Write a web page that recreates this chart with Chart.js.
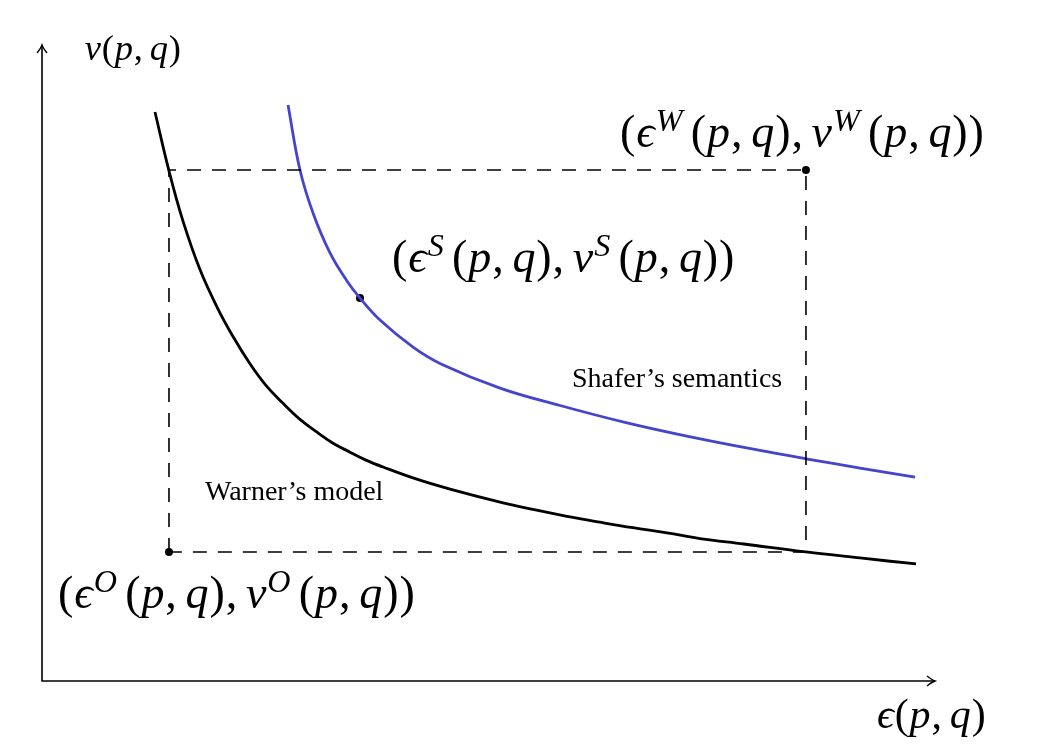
<!DOCTYPE html>
<html lang="en">
<head>
    <meta charset="UTF-8">
    <title>Privacy / utility curves</title>
    <script src="https://cdn.jsdelivr.net/npm/chart.js"></script>
    <style>
        body { margin: 0; background: #fff; }
        canvas { display: block; }
    </style>
</head>
<body>
    <canvas id="chart" width="1058" height="756"></canvas>

    <script>
        // --- curve data (x = epsilon, y = nu, arbitrary units) ---
        const warnerX = [1.265, 1.422, 1.579, 1.769, 1.960, 2.139, 2.329, 2.508, 2.699, 2.889, 3.080, 3.259, 3.449, 3.628, 3.819, 4.188, 4.569, 5.129, 5.498, 5.879, 6.249, 6.618, 6.999, 7.368, 7.861, 8.555, 9.160, 9.787];
        const warnerY = [6.263, 5.615, 5.061, 4.528, 4.116, 3.791, 3.491, 3.253, 3.056, 2.879, 2.738, 2.617, 2.519, 2.431, 2.355, 2.224, 2.112, 1.969, 1.888, 1.813, 1.748, 1.687, 1.631, 1.568, 1.508, 1.420, 1.354, 1.288];

        const shaferX = [2.755, 2.889, 3.035, 3.225, 3.415, 3.561, 3.785, 4.155, 4.468, 5.129, 5.801, 6.551, 7.290, 8.040, 8.555, 9.160, 9.776];
        const shaferY = [6.340, 5.624, 5.151, 4.711, 4.403, 4.215, 3.973, 3.675, 3.490, 3.224, 3.032, 2.841, 2.681, 2.537, 2.446, 2.344, 2.244];

        // marked points: O (optimal), W (Warner), S (Shafer)
        const pointNames = ['O', 'W', 'S'];
        const pointX = [1.422, 8.555, 3.561];
        const pointY = [1.420, 5.624, 4.215];

        const toXY = (xs, ys) => xs.map((x, i) => ({ x: x, y: ys[i] }));

        // dashed box spanned by O and W
        const O = { x: pointX[0], y: pointY[0] };
        const W = { x: pointX[1], y: pointY[1] };
        const boxPath = [
            { x: O.x, y: O.y }, { x: O.x, y: W.y }, { x: W.x, y: W.y }, { x: W.x, y: O.y }, { x: O.x, y: O.y }
        ];

        const MATH_FONT = '"Liberation Serif", "DejaVu Serif", serif';

        // draws a small TeX-like string: letters italic, ^X superscript, rest upright
        function drawMath(ctx, str, x, y, size) {
            let cx = x;
            for (let i = 0; i < str.length; i++) {
                let ch = str[i];
                let sup = false;
                if (ch === '^') { sup = true; ch = str[++i]; }
                if (ch === ' ') { cx += size * 0.17; continue; }
                const italic = /[A-Za-z\u03b1-\u03f5]/.test(ch);
                const s = sup ? size * 0.7 : size;
                ctx.font = (italic ? 'italic ' : '') + s + 'px ' + MATH_FONT;
                ctx.fillText(ch, cx, sup ? y - size * 0.35 : y);
                cx += ctx.measureText(ch).width + (sup ? size * 0.18 : size * 0.02);
            }
        }

        const decorations = {
            id: 'decorations',
            beforeDatasetsDraw(chart) {
                const ctx = chart.ctx;
                const xs = chart.scales.x, ys = chart.scales.y;
                const x0 = xs.getPixelForValue(0), y0 = ys.getPixelForValue(0);
                const xEnd = xs.getPixelForValue(xs.max), yEnd = ys.getPixelForValue(ys.max);
                ctx.save();
                ctx.strokeStyle = '#000';
                ctx.lineWidth = 1.6;
                ctx.beginPath();
                ctx.moveTo(x0, yEnd);
                ctx.lineTo(x0, y0);
                ctx.lineTo(xEnd, y0);
                ctx.stroke();
                // arrow heads
                ctx.lineWidth = 1.4;
                ctx.beginPath();
                ctx.moveTo(x0 - 5, yEnd + 8); ctx.quadraticCurveTo(x0 - 1, yEnd + 3, x0, yEnd);
                ctx.quadraticCurveTo(x0 + 1, yEnd + 3, x0 + 5, yEnd + 8);
                ctx.moveTo(xEnd - 8, y0 - 5); ctx.quadraticCurveTo(xEnd - 3, y0 - 1, xEnd, y0);
                ctx.quadraticCurveTo(xEnd - 3, y0 + 1, xEnd - 8, y0 + 5);
                ctx.stroke();
                ctx.restore();
            },
            afterDraw(chart) {
                const ctx = chart.ctx;
                const X = v => chart.scales.x.getPixelForValue(v);
                const Y = v => chart.scales.y.getPixelForValue(v);
                ctx.save();
                ctx.fillStyle = '#000';
                ctx.textBaseline = 'alphabetic';
                drawMath(ctx, '\u03bd(p, q)', X(0.48), Y(6.835), 36.5);
                drawMath(ctx, '\u03f5(p, q)', X(9.35), Y(-0.517), 42);
                drawMath(ctx, '(\u03f5^W(p, q), \u03bd^W(p, q))', X(6.473), Y(5.877), 46);
                drawMath(ctx, '(\u03f5^S(p, q), \u03bd^S(p, q))', X(3.919), Y(4.502), 46);
                drawMath(ctx, '(\u03f5^O(p, q), \u03bd^O(p, q))', X(0.179), Y(0.803), 46);
                ctx.font = '28px ' + MATH_FONT;
                ctx.fillText('Shafer\u2019s semantics', X(5.935), Y(3.236));
                ctx.fillText('Warner\u2019s model', X(1.825), Y(1.992));
                ctx.restore();
            }
        };

        new Chart(document.getElementById('chart').getContext('2d'), {
            type: 'scatter',
            data: {
                datasets: [
                    {
                        label: 'Box',
                        data: boxPath,
                        showLine: true,
                        borderColor: '#000',
                        borderWidth: 1.6,
                        borderDash: [14, 11],
                        pointRadius: 0,
                        tension: 0,
                        clip: false
                    },
                    {
                        label: "Warner's model",
                        data: toXY(warnerX, warnerY),
                        showLine: true,
                        borderColor: '#000',
                        borderWidth: 2.8,
                        pointRadius: 0,
                        tension: 0.4,
                        clip: false
                    },
                    {
                        label: "Shafer's semantics",
                        data: toXY(shaferX, shaferY),
                        showLine: true,
                        borderColor: '#4444cc',
                        borderWidth: 2.8,
                        pointRadius: 0,
                        tension: 0.4,
                        clip: false
                    },
                    {
                        label: 'Points',
                        data: toXY(pointX, pointY),
                        showLine: false,
                        pointRadius: 4,
                        pointBackgroundColor: '#000',
                        pointBorderWidth: 0,
                        clip: false
                    }
                ]
            },
            options: {
                responsive: false,
                animation: false,
                layout: { padding: { left: 42, top: 45, right: 123, bottom: 75 } },
                plugins: {
                    legend: { display: false },
                    tooltip: { enabled: false }
                },
                scales: {
                    x: { type: 'linear', min: 0, max: 10, display: false },
                    y: { type: 'linear', min: 0, max: 7, display: false }
                }
            },
            plugins: [decorations]
        });
    </script>
</body>
</html>
